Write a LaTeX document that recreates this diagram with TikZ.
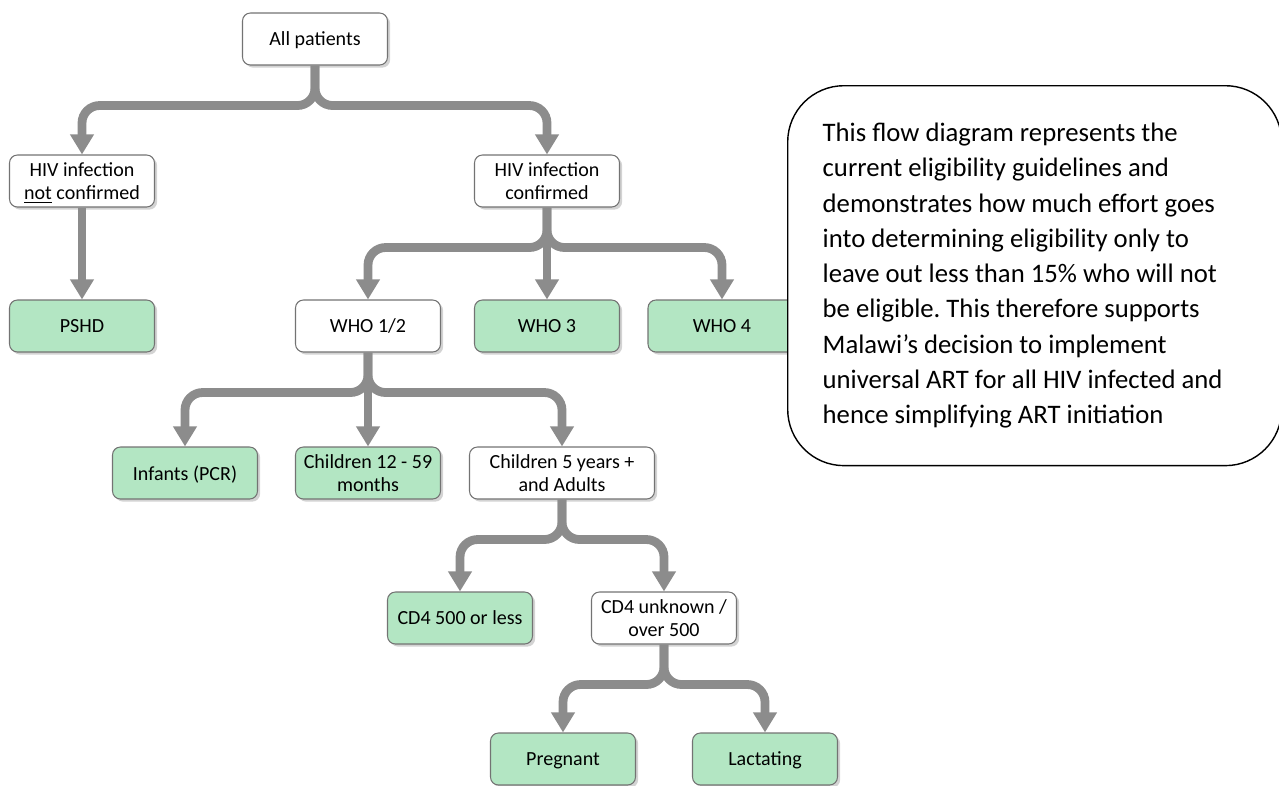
\documentclass[tikz,border=0pt]{standalone}
\usepackage{fontspec}
\setmainfont{Carlito}
\usepackage{tikz}
\usetikzlibrary{positioning,arrows.meta,shadows}
\definecolor{boxgreen}{RGB}{179,230,195}
\definecolor{linkgray}{RGB}{140,140,140}
\definecolor{edgegray}{RGB}{115,115,115}
\frenchspacing

\begin{document}
\begin{tikzpicture}[
  x=0.02cm, y=-0.02cm,
  box/.style={draw=edgegray, line width=0.6pt, rounded corners=4.5pt, fill=white, minimum width=2.9cm, minimum height=1.04cm, align=center, inner sep=2pt, text depth=0pt, font=\fontsize{11.4}{13.3}\selectfont, drop shadow={shadow xshift=1.5pt, shadow yshift=-1.5pt, opacity=0.35}},
  leaf/.style={box, fill=boxgreen},
  link/.style={draw=linkgray, line width=5pt, rounded corners=10pt, -{Triangle[width=13pt,length=11.5pt]}},
  note/.style={draw=black, line width=0.8pt, fill=white, rounded corners=32pt, minimum width=9.88cm, minimum height=7.6cm, text width=8.48cm, inner xsep=0.7cm, align=flush left, font=\fontsize{15.2}{20.1}\selectfont}
]
\useasboundingbox (0,0) rectangle (1279,785);

% tree
\node[box] (all) at (315,39) {All patients};
\node[box] (notconf) at (82,181) {HIV infection\\\underline{not} confirmed};
\node[box] (conf) at (547,181) {HIV infection\\confirmed};

\node[leaf] (pshd) at (82,326) {PSHD};
\node[box] (who12) at (368,326) {WHO 1/2};
\node[leaf] (who3) at (547,326) {WHO 3};
\node[leaf, minimum width=2.96cm] (who4) at (722,326) {WHO 4};

\node[leaf] (infants) at (185,473) {Infants (PCR)};
\node[leaf] (kids) at (368,473) {Children 12 - 59\\months};
\node[box, minimum width=3.7cm] (adults) at (562,473) {Children 5 years +\\and Adults};

\node[leaf] (cdlow) at (460,618) {CD4 500 or less};
\node[box] (cdhigh) at (664,618) {CD4 unknown /\\over 500};

\node[leaf] (preg) at (563,759) {Pregnant};
\node[leaf] (lact) at (765,759) {Lactating};

% connectors
\draw[link] (all.south) -- ++(0,40) -| (notconf.north);
\draw[link] (all.south) -- ++(0,40) -| (conf.north);
\draw[link] (notconf.south) -- (pshd.north);
\draw[link] (conf.south) -- ++(0,40) -| (who12.north);
\draw[link] (conf.south) -- (who3.north);
\draw[link] (conf.south) -- ++(0,40) -| (who4.north);
\draw[link] (who12.south) -- ++(0,40) -| (infants.north);
\draw[link] (who12.south) -- (kids.north);
\draw[link] (who12.south) -- ++(0,40) -| (adults.north);
\draw[link] (adults.south) -- ++(0,40) -| (cdlow.north);
\draw[link] (adults.south) -- ++(0,40) -| (cdhigh.north);
\draw[link] (cdhigh.south) -- ++(0,40) -| (preg.north);
\draw[link] (cdhigh.south) -- ++(0,40) -| (lact.north);

% remark box
\node[note, anchor=north west] (remark) at (787,85) {This flow diagram represents the\\
current eligibility guidelines and\\
demonstrates how much effort goes\\
into determining eligibility only to\\
leave out less than 15\% who will not\\
be eligible. This therefore supports\\
Malawi’s decision to implement\\
universal ART for all HIV infected and\\
hence simplifying ART initiation};
\end{tikzpicture}
\end{document}
